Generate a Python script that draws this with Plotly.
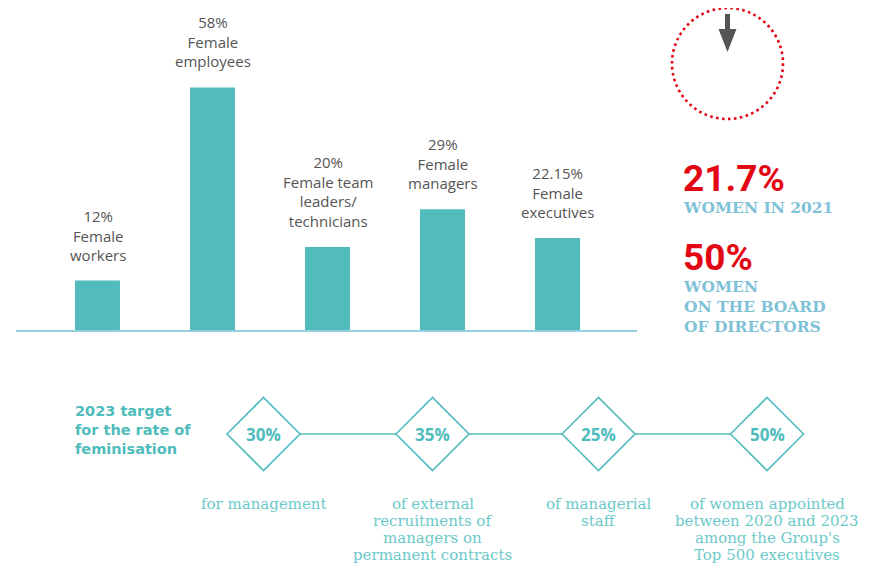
import plotly.graph_objects as go

W, H = 876, 560   # figure size; page body adds an 8px margin
OFF = 8

# ---- data ----
bar_values = [12, 58, 20, 29, 22.15]
bar_labels = ["12%<br>Female<br>workers", "58%<br>Female<br>employees",
              "20%<br>Female team<br>leaders/<br>technicians",
              "29%<br>Female<br>managers", "22.15%<br>Female<br>executives"]
women_2021 = "21.7%"
women_board = "50%"
target_values = ["30%", "35%", "25%", "50%"]
target_texts = ["for management",
                "of external<br>recruitments of<br>managers on<br>permanent contracts",
                "of managerial<br>staff",
                "of women appointed<br>between 2020 and 2023<br>among the Group's<br>Top 500 executives"]

TEAL = "#52bcbd"
TEAL_TXT = "#4fbcbc"
LIGHT_BLUE = "#7fc2d7"
RED = "#e30613"
GRAY = "#555555"


def px(x):
    return (x - OFF) / W


def py(y):
    return 1 - (y - OFF) / H


fig = go.Figure()
fig.add_trace(go.Bar(x=list(range(len(bar_values))), y=bar_values, width=0.391,
                     marker=dict(color=TEAL, line=dict(width=0)), hoverinfo="skip"))

k = 4.2  # px per unit
base = 331 - OFF
x0v = -(97.5 - OFF) / 115
fig.update_layout(
    width=W, height=H, margin=dict(l=0, r=0, t=0, b=0),
    paper_bgcolor="white", plot_bgcolor="white", showlegend=False,
    xaxis=dict(range=[x0v, x0v + W / 115], visible=False, fixedrange=True),
    yaxis=dict(range=[-(H - base) / k, base / k], visible=False, fixedrange=True),
)

shapes = []
annotations = []

# baseline
shapes.append(dict(type="line", xref="paper", yref="paper", x0=px(16), x1=px(637),
                   y0=py(331), y1=py(331), line=dict(color="#95d0de", width=2)))

# bar labels
for i, (v, t) in enumerate(zip(bar_values, bar_labels)):
    annotations.append(dict(x=i, y=v, xref="x", yref="y", text=t, showarrow=False,
                            yanchor="bottom", yshift=14,
                            font=dict(family="Open Sans", size=15, color=GRAY)))

# dotted circle
shapes.append(dict(type="circle", xref="paper", yref="paper",
                   x0=px(672), x1=px(783), y0=py(119), y1=py(8),
                   line=dict(color=RED, width=2.6, dash="2.6px,3.4px")))
# arrow
shapes.append(dict(type="line", xref="paper", yref="paper", x0=px(727.5), x1=px(727.5),
                   y0=py(14), y1=py(31), line=dict(color=GRAY, width=5)))
shapes.append(dict(type="path", xref="paper", yref="paper",
                   path=f"M {px(718.5)} {py(29)} L {px(736.5)} {py(29)} L {px(727.5)} {py(52)} Z",
                   fillcolor=GRAY, line=dict(width=0)))

# right side stats
annotations.append(dict(x=px(681), y=py(178), xref="paper", yref="paper", text=f"<b>{women_2021}</b>",
                        showarrow=False, xanchor="left", yanchor="middle",
                        font=dict(family="Roboto", size=37, color=RED)))
annotations.append(dict(x=px(681), y=py(207), xref="paper", yref="paper", text="<b>WOMEN IN 2021</b>",
                        showarrow=False, xanchor="left", yanchor="middle",
                        font=dict(family="DejaVu Serif", size=15.5, color=LIGHT_BLUE)))
annotations.append(dict(x=px(681), y=py(258), xref="paper", yref="paper", text=f"<b>{women_board}</b>",
                        showarrow=False, xanchor="left", yanchor="middle",
                        font=dict(family="Roboto", size=37, color=RED)))
annotations.append(dict(x=px(681), y=py(306.5), xref="paper", yref="paper",
                        text="<b>WOMEN<br>ON THE BOARD<br>OF DIRECTORS</b>", align="left",
                        showarrow=False, xanchor="left", yanchor="middle",
                        font=dict(family="DejaVu Serif", size=15.5, color=LIGHT_BLUE)))

# target heading
annotations.append(dict(x=px(73), y=py(430), xref="paper", yref="paper",
                        text="<b>2023 target<br>for the rate of<br>feminisation</b>", align="left",
                        showarrow=False, xanchor="left", yanchor="middle",
                        font=dict(family="DejaVu Sans", size=14.5, color=TEAL_TXT)))

# diamonds
centers = [263.5, 432.5, 598.5, 767]
cy = 434
r = 36.5
shapes.append(dict(type="line", xref="paper", yref="paper", x0=px(centers[0] + r), x1=px(centers[-1] - r),
                   y0=py(cy), y1=py(cy), line=dict(color=TEAL, width=1.6)))
for cx, val, txt in zip(centers, target_values, target_texts):
    shapes.append(dict(type="path", xref="paper", yref="paper",
                       path=(f"M {px(cx - r)} {py(cy)} L {px(cx)} {py(cy - r)} L {px(cx + r)} {py(cy)} "
                             f"L {px(cx)} {py(cy + r)} Z"),
                       fillcolor="white", line=dict(color=TEAL, width=1.6)))
    annotations.append(dict(x=px(cx), y=py(cy), xref="paper", yref="paper", text=f"<b>{val}</b>",
                            showarrow=False, xanchor="center", yanchor="middle",
                            font=dict(family="Open Sans", size=17, color=TEAL_TXT)))
    for j, line in enumerate(txt.split("<br>")):
        annotations.append(dict(x=px(cx), y=py(504 + 17 * j), xref="paper", yref="paper", text=line,
                                showarrow=False, xanchor="center", yanchor="middle", align="center",
                                font=dict(family="DejaVu Serif", size=15, color="#6cc9c9")))

fig.update_layout(shapes=shapes, annotations=annotations)
fig.write_html("out.html")
